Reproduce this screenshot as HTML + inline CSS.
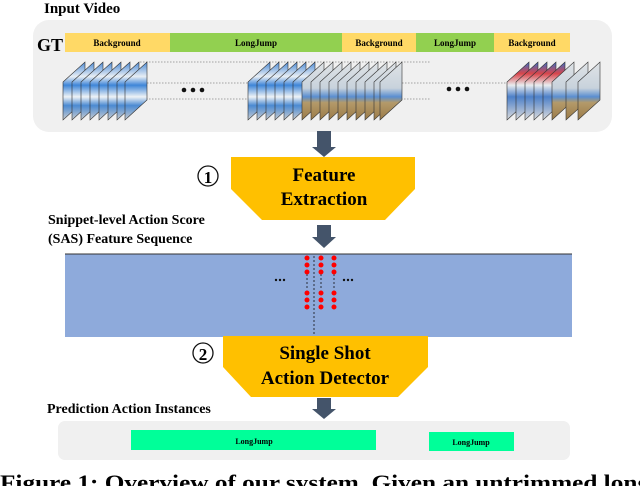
<!DOCTYPE html>
<html><head><meta charset="utf-8"><style>
html,body{margin:0;padding:0;background:#fff;}
svg{display:block;}
text{font-family:"Liberation Serif",serif;font-weight:bold;}
</style></head><body>
<svg width="640" height="486" viewBox="0 0 640 486" xmlns="http://www.w3.org/2000/svg">
<defs>
<linearGradient id="gb" x1="0" y1="0" x2="0" y2="1">
<stop offset="0" stop-color="#4a8ad6"/><stop offset="0.25" stop-color="#e8eef4"/><stop offset="0.4" stop-color="#3f86d8"/><stop offset="0.6" stop-color="#eef2f6"/><stop offset="0.75" stop-color="#4b8ad2"/><stop offset="1" stop-color="#c9ccd0"/>
</linearGradient>
<linearGradient id="gt" x1="0" y1="0" x2="0" y2="1">
<stop offset="0" stop-color="#dfe3e6"/><stop offset="0.45" stop-color="#c8d2dc"/><stop offset="0.6" stop-color="#5a8ed0"/><stop offset="0.7" stop-color="#b49a6a"/><stop offset="1" stop-color="#9a7a48"/>
</linearGradient>
<linearGradient id="gr" x1="0" y1="0" x2="0" y2="1">
<stop offset="0" stop-color="#3a6fc8"/><stop offset="0.2" stop-color="#d8454a"/><stop offset="0.4" stop-color="#e9ecef"/><stop offset="0.6" stop-color="#4d80c8"/><stop offset="1" stop-color="#dcdcdc"/>
</linearGradient>
<g id="fb"><polygon points="0,82 22,62 22,100 0,120" fill="url(#gb)" stroke="#333" stroke-width="0.6"/></g>
<g id="ft"><polygon points="0,82 22,62 22,100 0,120" fill="url(#gt)" stroke="#333" stroke-width="0.6"/></g>
<g id="fr"><polygon points="0,82 22,62 22,100 0,120" fill="url(#gr)" stroke="#333" stroke-width="0.6"/></g>
<g id="fs"><polygon points="0,82 22,62 22,100 0,120" fill="url(#gt)" stroke="#333" stroke-width="0.6"/></g>
</defs>

<text x="44" y="13" font-size="15">Input Video</text>
<rect x="33" y="20" width="579" height="112" rx="16" fill="#f0f0f0"/>
<text x="37" y="51" font-size="18">GT</text>
<rect x="65" y="33" width="105" height="19" fill="#ffd966"/>
<rect x="170" y="33" width="172" height="19" fill="#92d050"/>
<rect x="342" y="33" width="74" height="19" fill="#ffd966"/>
<rect x="416" y="33" width="78" height="19" fill="#92d050"/>
<rect x="494" y="33" width="76" height="19" fill="#ffd966"/>
<g font-size="9" text-anchor="middle">
<text x="117" y="46">Background</text><text x="256" y="46">LongJump</text><text x="379" y="46">Background</text><text x="455" y="46">LongJump</text><text x="532" y="46">Background</text>
</g>
<g stroke="#888" stroke-width="0.8" stroke-dasharray="1.5,1.5">
<line x1="140" y1="62" x2="430" y2="62"/><line x1="63" y1="83" x2="600" y2="83"/><line x1="140" y1="99" x2="430" y2="99"/>
</g>
<g>
<use href="#fb" x="63"/><use href="#fb" x="72"/><use href="#fb" x="81"/><use href="#fb" x="90"/><use href="#fb" x="99"/><use href="#fb" x="108"/><use href="#fb" x="117"/><use href="#fb" x="125"/>
</g>
<g>
<use href="#fb" x="248"/><use href="#fb" x="257"/><use href="#fb" x="266"/><use href="#fb" x="275"/><use href="#fb" x="284"/><use href="#fb" x="293"/>
<use href="#ft" x="302"/><use href="#ft" x="311"/><use href="#ft" x="320"/><use href="#ft" x="329"/><use href="#ft" x="338"/><use href="#ft" x="347"/><use href="#ft" x="356"/><use href="#ft" x="365"/><use href="#ft" x="374"/><use href="#ft" x="380"/>
</g>
<g>
<use href="#fr" x="507"/><use href="#fr" x="516"/><use href="#fr" x="525"/><use href="#fr" x="534"/><use href="#fr" x="543"/><use href="#fs" x="552"/><use href="#fs" x="566"/><use href="#fs" x="578"/>
</g>
<g fill="#111"><circle cx="184" cy="90" r="2.3"/><circle cx="193" cy="90" r="2.3"/><circle cx="202" cy="90" r="2.3"/>
<circle cx="449" cy="89" r="2.3"/><circle cx="458" cy="89" r="2.3"/><circle cx="467" cy="89" r="2.3"/></g>

<g fill="#44546a">
<rect x="317" y="131" width="14" height="16"/><polygon points="312,147 336,147 324,157"/>
<rect x="317" y="225" width="14" height="13"/><polygon points="312,237 336,237 324,248"/>
<rect x="317" y="338" width="14" height="9"/><polygon points="312,346 336,346 324,355"/>
<rect x="317" y="398" width="14" height="12"/><polygon points="312,409 336,409 324,419"/>
</g>

<polygon points="231,157 415,157 415,189 385,220 262,220 231,189" fill="#ffc000"/>
<text x="324" y="181" font-size="19" text-anchor="middle">Feature</text>
<text x="324" y="205" font-size="19" text-anchor="middle">Extraction</text>
<circle cx="208" cy="176" r="10" fill="none" stroke="#111" stroke-width="1.3"/>
<text x="208" y="183" font-size="17" text-anchor="middle" font-weight="normal" font-family="Liberation Sans">1</text>

<text x="48" y="224" font-size="14">Snippet-level Action Score</text>
<text x="48" y="243" font-size="14">(SAS)  Feature Sequence</text>
<rect x="65" y="254" width="507" height="83" fill="#8eaadb"/>
<line x1="65" y1="254" x2="572" y2="254" stroke="#333" stroke-width="1"/>
<g fill="#111"><circle cx="276" cy="280" r="1.2"/><circle cx="280" cy="280" r="1.2"/><circle cx="284" cy="280" r="1.2"/>
<circle cx="344" cy="280" r="1.2"/><circle cx="348" cy="280" r="1.2"/><circle cx="352" cy="280" r="1.2"/></g>
<g stroke="#111" stroke-width="0.8" stroke-dasharray="2,2"><line x1="314" y1="256" x2="314" y2="337"/><line x1="307" y1="274" x2="307" y2="290"/><line x1="321" y1="274" x2="321" y2="290"/><line x1="334" y1="274" x2="334" y2="290"/></g>
<g fill="#f00">
<circle cx="307" cy="258" r="2.5"/><circle cx="307" cy="265" r="2.5"/><circle cx="307" cy="272" r="2.5"/><circle cx="307" cy="293" r="2.5"/><circle cx="307" cy="300" r="2.5"/><circle cx="307" cy="307" r="2.5"/>
<circle cx="321" cy="258" r="2.5"/><circle cx="321" cy="265" r="2.5"/><circle cx="321" cy="272" r="2.5"/><circle cx="321" cy="293" r="2.5"/><circle cx="321" cy="300" r="2.5"/><circle cx="321" cy="307" r="2.5"/>
<circle cx="334" cy="258" r="2.5"/><circle cx="334" cy="265" r="2.5"/><circle cx="334" cy="272" r="2.5"/><circle cx="334" cy="293" r="2.5"/><circle cx="334" cy="300" r="2.5"/><circle cx="334" cy="307" r="2.5"/>
</g>

<polygon points="223,336 428,336 428,367 398,397 251,397 223,367" fill="#ffc000"/>
<text x="325" y="359" font-size="19" text-anchor="middle">Single Shot</text>
<text x="325" y="384" font-size="19" text-anchor="middle">Action Detector</text>
<circle cx="203" cy="353" r="10" fill="none" stroke="#111" stroke-width="1.3"/>
<text x="203" y="360" font-size="17" text-anchor="middle" font-weight="normal" font-family="Liberation Sans">2</text>

<text x="47" y="413" font-size="14">Prediction Action Instances</text>
<rect x="58" y="421" width="512" height="39" rx="7" fill="#f0f0f0"/>
<rect x="131" y="430" width="245" height="20" fill="#00ff99"/>
<rect x="429" y="432" width="85" height="19" fill="#00ff99"/>
<text x="254" y="444" font-size="8" text-anchor="middle">LongJump</text>
<text x="471" y="445" font-size="8" text-anchor="middle">LongJump</text>

<text x="0" y="490" font-size="22" textLength="650" lengthAdjust="spacingAndGlyphs">Figure 1: Overview of our system. Given an untrimmed long</text>
</svg>
</body></html>
